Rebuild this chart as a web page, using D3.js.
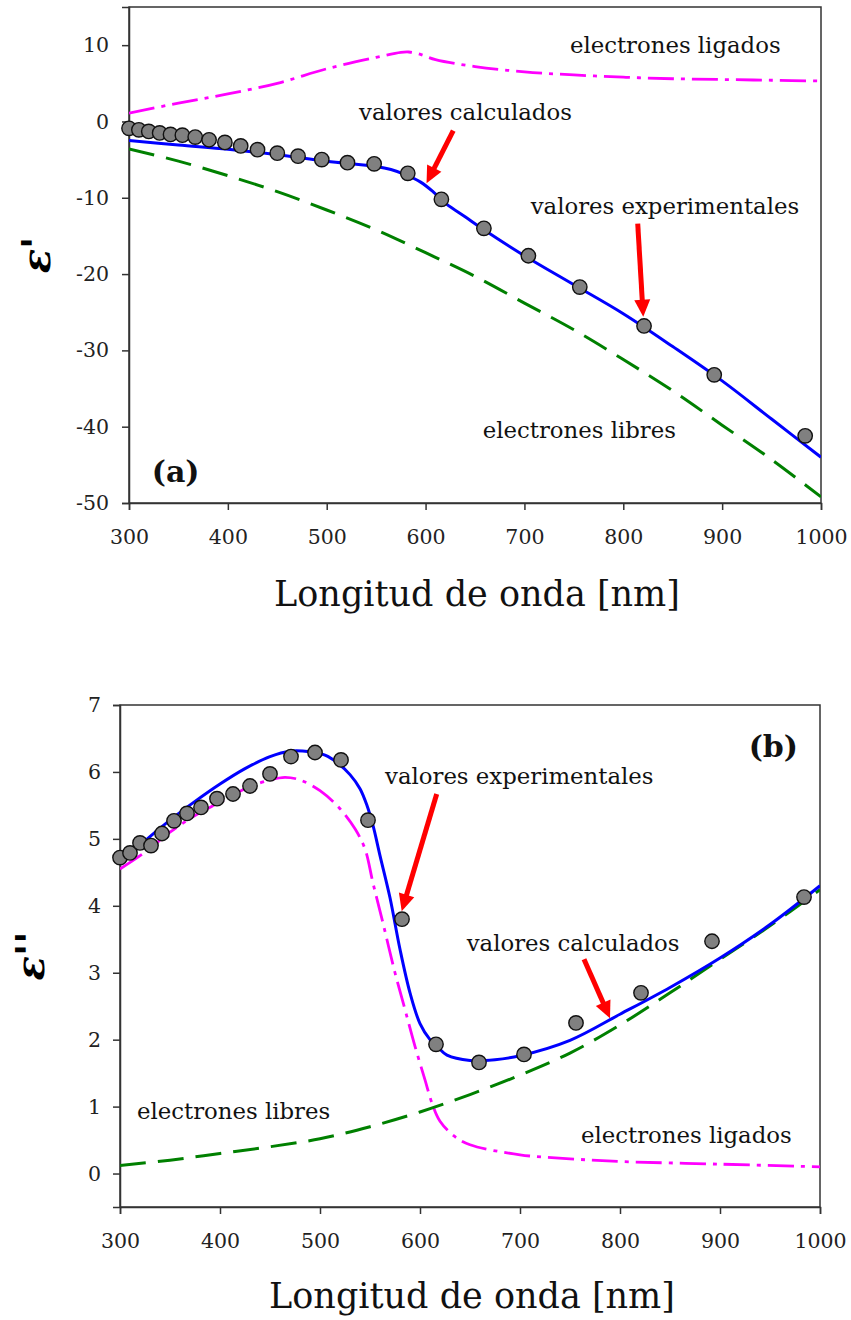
<!DOCTYPE html>
<html>
<head>
<meta charset="utf-8">
<script src="https://cdn.jsdelivr.net/npm/d3@7"></script>
<style>
  body { margin: 0; background: #fff; }
  svg text { font-family: "DejaVu Serif", serif; }
</style>
</head>
<body>
<svg id="chart" width="851" height="1320"></svg>
<script>
// Wavelengths of the experimental points (nm), shared by both panels
const lambdaExp = [300, 310, 320, 331, 342, 354, 367, 381, 397, 413, 430, 450, 471, 495, 521, 548, 582, 616, 659, 704, 756, 821, 892, 984];

// Panel (a): real part eps'
const epsRealExp = [-0.9, -1.1, -1.3, -1.5, -1.7, -1.8, -2.05, -2.4, -2.75, -3.2, -3.7, -4.15, -4.55, -5.0, -5.4, -5.55, -6.8, -10.2, -14.0, -17.6, -21.7, -26.8, -33.2, -41.2];
const lambdaCalcA = [300, 350, 400, 450, 500, 550, 565, 580, 595, 608, 621, 640, 659, 700, 750, 800, 850, 900, 950, 1000];
const epsRealCalc = [-2.5, -3.1, -3.65, -4.35, -5.2, -5.9, -6.3, -7.0, -7.95, -9.25, -10.8, -12.5, -14.2, -17.6, -21.4, -25.2, -29.5, -34.0, -39.0, -44.0];
const lambdaFreeA = [300, 350, 400, 450, 500, 550, 600, 650, 700, 750, 800, 850, 900, 950, 1000];
const epsRealFree = [-3.6, -5.2, -7.1, -9.2, -11.6, -14.2, -17.2, -20.3, -23.8, -27.3, -31.2, -35.3, -39.8, -44.3, -49.2];
const lambdaBoundA = [300, 350, 400, 450, 500, 550, 575, 583, 592, 610, 650, 700, 750, 800, 850, 900, 950, 1000];
const epsRealBound = [1.1, 2.4, 3.6, 5.0, 6.9, 8.4, 9.05, 9.1, 8.9, 8.1, 7.2, 6.5, 6.1, 5.8, 5.6, 5.5, 5.4, 5.3];

// Panel (b): imaginary part eps''
const epsImagExp = [4.72, 4.79, 4.94, 4.90, 5.08, 5.27, 5.38, 5.47, 5.60, 5.67, 5.79, 5.97, 6.23, 6.29, 6.18, 5.28, 3.80, 1.93, 1.66, 1.78, 2.25, 2.70, 3.47, 4.13];
const lambdaCalcB = [300, 325, 350, 375, 400, 425, 450, 470, 490, 505, 518, 530, 540, 547, 553, 560, 570, 580, 590, 600, 610, 617, 627, 650, 675, 700, 750, 800, 850, 900, 950, 1000];
const epsImagCalc = [4.62, 4.97, 5.28, 5.56, 5.82, 6.05, 6.23, 6.31, 6.30, 6.25, 6.13, 5.96, 5.75, 5.5, 5.2, 4.75, 4.12, 3.35, 2.7, 2.24, 2.0, 1.9, 1.77, 1.69, 1.70, 1.76, 1.99, 2.38, 2.78, 3.22, 3.72, 4.3];
const lambdaFreeB = [300, 350, 400, 450, 500, 550, 600, 650, 700, 750, 800, 850, 900, 950, 1000];
const epsImagFree = [0.12, 0.2, 0.3, 0.4, 0.52, 0.7, 0.92, 1.18, 1.47, 1.8, 2.22, 2.7, 3.2, 3.7, 4.24];
const lambdaBoundB = [300, 325, 350, 375, 400, 425, 450, 465, 480, 500, 520, 535, 545, 553, 563, 575, 585, 595, 605, 612, 620, 635, 650, 700, 750, 800, 900, 1000];
const epsImagBound = [4.55, 4.8, 5.1, 5.35, 5.55, 5.75, 5.88, 5.92, 5.88, 5.72, 5.45, 5.15, 4.85, 4.34, 3.74, 3.0, 2.45, 1.9, 1.4, 1.05, 0.78, 0.55, 0.43, 0.28, 0.22, 0.18, 0.14, 0.1];

// Axis ticks
const xTicks = [300, 400, 500, 600, 700, 800, 900, 1000];
const yTicksA = [-50, -40, -30, -20, -10, 0, 10];
const yTicksB = [0, 1, 2, 3, 4, 5, 6, 7];

const svg = d3.select("#chart");
const axisColor = "#333";

function zip(xs, ys) {
  return xs.map((x, i) => ({ x: x, y: ys[i] }));
}

function drawArrow(g, x1, y1, x2, y2) {
  const dx = x2 - x1, dy = y2 - y1;
  const len = Math.hypot(dx, dy);
  const ux = dx / len, uy = dy / len;
  const hl = 17, hw = 8;
  const bx = x2 - ux * hl, by = y2 - uy * hl;
  g.append("line")
    .attr("x1", x1).attr("y1", y1)
    .attr("x2", bx + ux * 2).attr("y2", by + uy * 2)
    .attr("stroke", "#ff0000")
    .attr("stroke-width", 5);
  g.append("path")
    .attr("d", `M${x2},${y2}L${bx - uy * hw},${by + ux * hw}L${bx + uy * hw},${by - ux * hw}Z`)
    .attr("fill", "#ff0000");
}

function drawPanel(p) {
  const x = d3.scaleLinear().domain([300, 1000]).range([p.left, p.right]);
  const y = d3.scaleLinear().domain(p.yDomain).range([p.bottom, p.top]);
  const g = svg.append("g");

  // clip for the curves
  g.append("clipPath").attr("id", p.id + "-clip")
    .append("rect")
    .attr("x", p.left).attr("y", p.top)
    .attr("width", p.right - p.left).attr("height", p.bottom - p.top);

  // frame
  g.append("rect")
    .attr("x", p.left).attr("y", p.top)
    .attr("width", p.right - p.left).attr("height", p.bottom - p.top)
    .attr("fill", "none")
    .attr("stroke", axisColor)
    .attr("stroke-width", 1.5);

  // axes
  const xAxis = g.append("g")
    .attr("transform", `translate(0,${p.bottom})`)
    .call(d3.axisBottom(x).tickValues(xTicks).tickSize(7).tickPadding(19).tickFormat((d) => String(d)));
  const yAxis = g.append("g")
    .attr("transform", `translate(${p.left},0)`)
    .call(d3.axisLeft(y).tickValues(p.yTicks).tickSize(7).tickPadding(p.yPad).tickFormat((d) => String(d)));
  [xAxis, yAxis].forEach((a) => {
    a.select(".domain").attr("stroke", axisColor).attr("stroke-width", 1.5);
    a.selectAll(".tick line").attr("stroke", axisColor).attr("stroke-width", 1.5);
    a.selectAll(".tick text")
      .attr("fill", "#222")
      .style("font-family", "DejaVu Serif")
      .style("font-size", "20.5px");
  });

  const line = d3.line()
    .x((d) => x(d.x))
    .y((d) => y(d.y))
    .curve(d3.curveCatmullRom.alpha(0.5));

  const curves = g.append("g").attr("clip-path", `url(#${p.id}-clip)`);

  // bound electrons (dash-dot magenta)
  curves.append("path")
    .datum(zip(p.boundX, p.boundY))
    .attr("d", line)
    .attr("fill", "none")
    .attr("stroke", "#ff00ff")
    .attr("stroke-width", 2.8)
    .attr("stroke-dasharray", "26,7,4,7");

  // free electrons (dashed green)
  curves.append("path")
    .datum(zip(p.freeX, p.freeY))
    .attr("d", line)
    .attr("fill", "none")
    .attr("stroke", "#008000")
    .attr("stroke-width", 3)
    .attr("stroke-dasharray", "26,12");

  // calculated (blue)
  curves.append("path")
    .datum(zip(p.calcX, p.calcY))
    .attr("d", line)
    .attr("fill", "none")
    .attr("stroke", "#0000ff")
    .attr("stroke-width", 3);

  // experimental points
  g.append("g")
    .selectAll("circle")
    .data(zip(lambdaExp, p.expY))
    .enter()
    .append("circle")
    .attr("cx", (d) => x(d.x))
    .attr("cy", (d) => y(d.y))
    .attr("r", 7.2)
    .attr("fill", "#808080")
    .attr("stroke", "#111")
    .attr("stroke-width", 1.4);

  // annotations
  p.labels.forEach((l) => {
    g.append("text")
      .attr("x", x(l.x))
      .attr("y", y(l.y))
      .attr("text-anchor", l.anchor || "start")
      .attr("fill", "#111")
      .style("font-size", (l.size || 22.8) + "px")
      .style("font-weight", l.bold ? "bold" : "normal")
      .text(l.text);
  });
  const arrows = g.append("g");
  p.arrows.forEach((a) => {
    drawArrow(arrows, x(a[0]), y(a[1]), x(a[2]), y(a[3]));
  });

  // y title (rotated epsilon)
  g.append("text")
    .attr("transform", `translate(${p.yTitleX},${(p.top + p.bottom) / 2}) rotate(-90)`)
    .attr("text-anchor", "middle")
    .attr("fill", "#000")
    .style("font-size", "40px")
    .style("font-style", "italic")
    .style("font-weight", "bold")
    .text(p.yTitle);

  // x title
  g.append("text")
    .attr("x", (p.left + p.right) / 2 + 2)
    .attr("y", p.bottom + p.xTitleDy)
    .attr("text-anchor", "middle")
    .attr("fill", "#111")
    .style("font-size", "35px")
    .text("Longitud de onda [nm]");
}

drawPanel({
  id: "a",
  left: 129, right: 821, top: 7, bottom: 503,
  yDomain: [-50, 15],
  yTicks: yTicksA,
  yPad: 13,
  expY: epsRealExp,
  calcX: lambdaCalcA, calcY: epsRealCalc,
  freeX: lambdaFreeA, freeY: epsRealFree,
  boundX: lambdaBoundA, boundY: epsRealBound,
  yTitle: "ε'",
  yTitleX: 50,
  xTitleDy: 103,
  labels: [
    { text: "electrones ligados", x: 746, y: 9.0 },
    { text: "valores calculados", x: 532.7, y: 0.2 },
    { text: "valores experimentales", x: 706.3, y: -12.1 },
    { text: "electrones libres", x: 657.8, y: -41.5 },
    { text: "(a)", x: 323, y: -47.2, bold: true, size: 30 },
  ],
  arrows: [
    [628, -1.2, 601, -8.1],
    [814.6, -13.4, 820.2, -25.6],
  ],
});

drawPanel({
  id: "b",
  left: 120, right: 820, top: 705, bottom: 1207,
  yDomain: [-0.5, 7],
  yTicks: yTicksB,
  yPad: 12,
  expY: epsImagExp,
  calcX: lambdaCalcB, calcY: epsImagCalc,
  freeX: lambdaFreeB, freeY: epsImagFree,
  boundX: lambdaBoundB, boundY: epsImagBound,
  yTitle: "ε''",
  yTitleX: 44,
  xTitleDy: 101,
  labels: [
    { text: "(b)", x: 978, y: 6.22, bold: true, size: 30, anchor: "end" },
    { text: "valores experimentales", x: 565, y: 5.82 },
    { text: "valores calculados", x: 646.7, y: 3.32 },
    { text: "electrones libres", x: 317, y: 0.82 },
    { text: "electrones ligados", x: 761, y: 0.45 },
  ],
  arrows: [
    [616.7, 5.67, 581.7, 3.92],
    [764, 3.2, 790, 2.32],
  ],
});
</script>
</body>
</html>
